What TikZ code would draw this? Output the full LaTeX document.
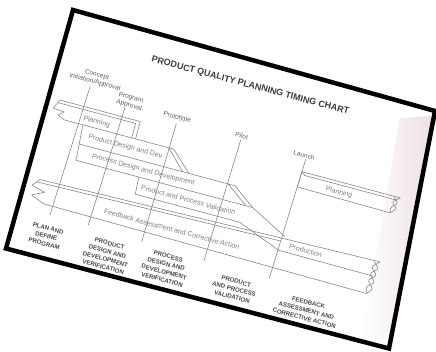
\documentclass[tikz,border=0pt]{standalone}
\usepackage{fontspec}
\setmainfont{Liberation Sans}
\usetikzlibrary{positioning}

\definecolor{chartgray}{RGB}{135,135,135}
\definecolor{labelgray}{RGB}{128,128,128}
\definecolor{milegray}{RGB}{95,95,95}
\definecolor{phasegray}{RGB}{70,70,70}
\definecolor{titlegray}{RGB}{60,60,60}
\definecolor{tintpink}{RGB}{238,224,230}

\tikzset{
  chartline/.style={draw=chartgray, line width=0.6pt, line join=round},
  barlabel/.style={text=labelgray, font=\fontsize{7}{8}\selectfont, transform shape, inner sep=0pt},
  milelabel/.style={text=milegray, font=\fontsize{6.6}{7.8}\selectfont, align=center, transform shape, inner sep=0pt},
  phaselabel/.style={text=phasegray, font=\bfseries\fontsize{6.1}{8.1}\selectfont, align=center, transform shape, inner sep=0pt, anchor=north},
}

\begin{document}
\begin{tikzpicture}[x=1pt,y=1pt]
    \useasboundingbox (0,0) rectangle (436,-351);

    % photo frame
    \coordinate (frameTL) at (73,-10);
    \coordinate (frameTR) at (435,-111);
    \coordinate (frameBR) at (389,-348.5);
    \coordinate (frameBL) at (6,-248.5);
    \fill[white] (frameTL) -- (frameTR) -- (frameBR) -- (frameBL) -- cycle;
    \shade[left color=white, right color=tintpink] (400,-118) -- (432,-116) -- (390,-340) -- (362,-335) -- cycle;

    \begin{scope}[shift={(66.55,-10.2)}, rotate=-15]
    \node[font=\bfseries\fontsize{9}{10}\selectfont, text=titlegray, transform shape] (title) at (197,-25.5) {PRODUCT QUALITY PLANNING TIMING CHART};

    % milestones
    \node[milelabel] (concept) at (46,-58.4) {Concept\\Initiation/Approval};
    \node[milelabel] (program) at (85,-72) {Program\\Approval};
    \node[milelabel] (prototype) at (134.7,-75) {Prototype};
    \node[milelabel] (pilot) at (201.7,-76) {Pilot};
    \node[milelabel] (launch) at (267,-78.4) {Launch};

    \coordinate (conceptTop) at (42.5,-67.8);  \coordinate (conceptBot) at (37,-202);
    \coordinate (programTop) at (81.6,-78.7);  \coordinate (programBot) at (76.6,-201.8);
    \coordinate (protoTop) at (135.4,-81.5);   \coordinate (protoBot) at (132.5,-204.2);
    \coordinate (pilotTop) at (201.8,-80.3);   \coordinate (pilotBot) at (197.6,-206.4);
    \coordinate (launchTop) at (269.6,-82.1);  \coordinate (launchBot) at (265.2,-206.5);

    \draw[chartline] (conceptTop) -- (conceptBot);
    \draw[chartline] (programTop) -- (programBot);
    \draw[chartline] (protoTop) -- (protoBot);
    \draw[chartline] (pilotTop) -- (pilotBot);
    \draw[chartline] (launchTop) -- (launchBot);

    % phases at the bottom
    \node[phaselabel] (planPhase) at (38.8,-213) {PLAN AND\\DEFINE\\PROGRAM};
    \node[phaselabel] (productPhase) at (102,-212) {PRODUCT\\DESIGN AND\\DEVELOPMENT\\VERIFICATION};
    \node[phaselabel] (processPhase) at (162,-209) {PROCESS\\DESIGN AND\\DEVELOPMENT\\VERIFICATION};
    \node[phaselabel] (validPhase) at (234,-215.5) {PRODUCT\\AND PROCESS\\VALIDATION};
    \node[phaselabel] (feedbackPhase) at (309.4,-217.5) {FEEDBACK\\ASSESSMENT AND\\CORRECTIVE ACTION};

    % planning (left)
    \draw[chartline] (17,-88.5) -- (100,-88.5) -- (100,-106.5);
    \draw[chartline] (15.6,-91.5) -- (96,-91.5) -- (96,-106.5);
    \draw[chartline] (17,-88.5) -- (12.5,-98) -- (24,-99) -- (19,-103.5) -- (26,-106.5);
    \draw[chartline] (26,-106.5) -- (139.5,-106.5);
    \node[barlabel] (planningL) at (58,-100) {Planning};

    % product design and development
    \draw[chartline] (45.5,-106.5) -- (48,-142.5);
    \draw[chartline] (46.5,-126) -- (208,-126);
    \draw[chartline] (134.5,-106.5) -- (154,-126);
    \draw[chartline] (139.5,-106.5) -- (160.5,-126);
    \node[barlabel] (productDev) at (92.7,-116.5) {Product Design and Dev.};

    % process design and development
    \draw[chartline] (201,-126) -- (224,-142.5);
    \draw[chartline] (208,-126) -- (231,-142.5);
    \draw[chartline] (48,-142.5) -- (231,-142.5);
    \node[barlabel] (processDev) at (115.5,-134.5) {Process Design and Development};

    % product and process validation
    \draw[chartline] (113,-142.5) -- (114,-160) -- (222,-160) -- (267,-177);
    \draw[chartline] (231,-142.5) -- (269,-162);
    \node[barlabel] (validation) at (166.7,-151.8) {Product and Process Validation};

    % feedback and production
    \draw[chartline] (18,-170.5) -- (368,-162);
    \draw[chartline] (15.6,-173.5) -- (267,-167.5);
    \draw[chartline] (18,-170.5) -- (12,-178) -- (26,-181.5) -- (14,-187.5) -- (28,-193);
    \draw[chartline] (28,-193) -- (363,-196);
    \draw[chartline] (267,-177) -- (365,-177.5);
    \draw[chartline, rounded corners=1.5pt] (368,-162) -- (361,-169) -- (368,-176) -- (361,-183) -- (368,-190) -- (363,-196);
    \draw[chartline, rounded corners=1.5pt] (362,-163) -- (368,-169) -- (361,-176) -- (368,-183) -- (361,-190) -- (363,-196);
    \node[barlabel] (feedback) at (158.3,-184.4) {Feedback Assessment and Corrective Action};
    \node[barlabel] (production) at (293.2,-170.4) {Production};

    % planning (right)
    \draw[chartline] (268.6,-111) -- (269.2,-95) -- (371,-95);
    \draw[chartline] (269.2,-95) -- (272.5,-98) -- (368,-98);
    \draw[chartline] (268.6,-111) -- (365,-112);
    \draw[chartline, rounded corners=1.5pt] (371,-95) -- (364,-101) -- (370,-106.5) -- (365,-112);
    \draw[chartline, rounded corners=1.5pt] (365,-96) -- (370,-101) -- (364,-106.5) -- (365,-112);
    \node[barlabel] (planningR) at (310.3,-105.4) {Planning};
    \end{scope}

    \draw[line width=4.5pt, line join=miter] (frameTL) -- (frameTR) -- (frameBR) -- (frameBL) -- cycle;
\end{tikzpicture}
\end{document}
